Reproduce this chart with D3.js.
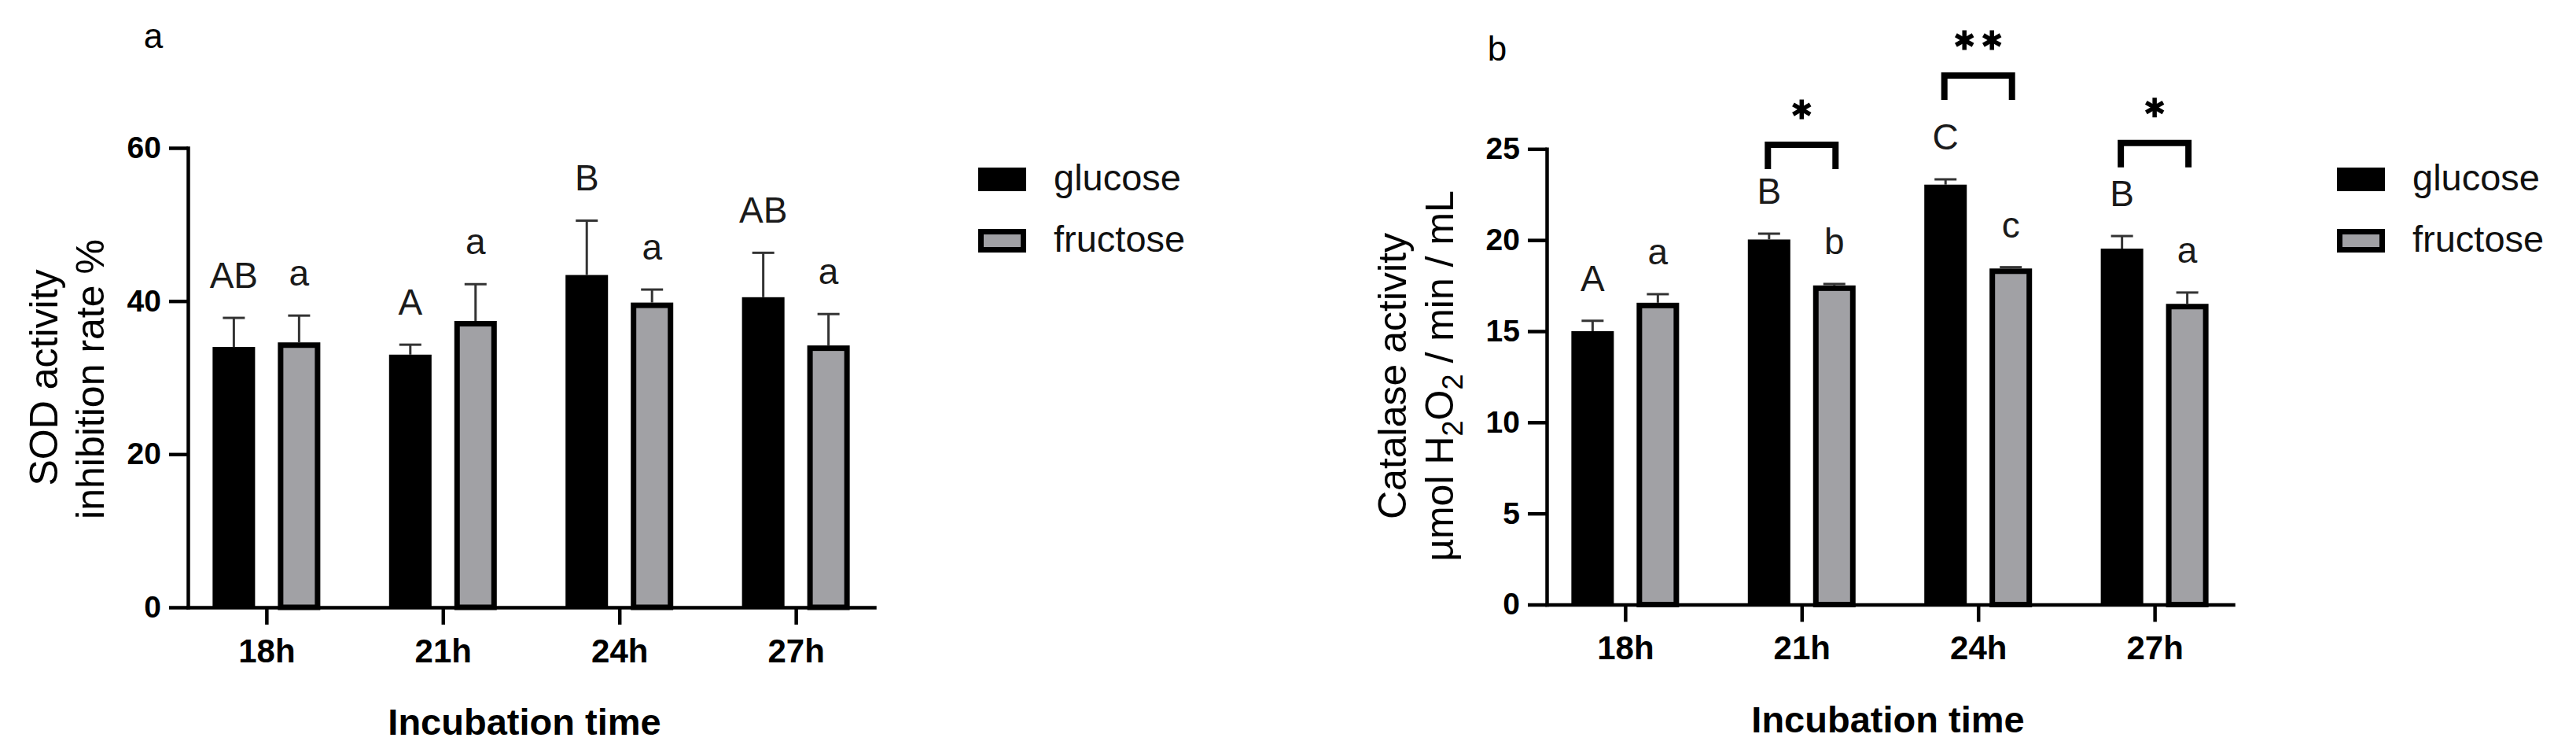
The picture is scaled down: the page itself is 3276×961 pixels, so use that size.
<!DOCTYPE html>
<html><head><meta charset="utf-8">
<script src="https://cdn.jsdelivr.net/npm/d3@7"></script>
<style>body{margin:0;background:#fff} text{font-family:"Liberation Sans",Arial,sans-serif}</style>
</head><body><svg id="c" width="3276" height="961"></svg>
<script>
// ---------- data ----------
const categories = ["18h", "21h", "24h", "27h"];
const seriesNames = ["glucose", "fructose"];

// Panel a: SOD activity inhibition rate %
const sodGlucose = [34.0, 33.0, 43.4, 40.5];
const sodGlucoseSD = [3.8, 1.3, 7.1, 5.8];
const sodFructose = [34.6, 37.4, 39.8, 34.2];
const sodFructoseSD = [3.5, 4.8, 1.7, 4.1];
const sodGlucoseLetters = ["AB", "A", "B", "AB"];
const sodFructoseLetters = ["a", "a", "a", "a"];
const sodTicks = [0, 20, 40, 60];

// Panel b: Catalase activity
const catGlucose = [15.0, 20.03, 23.04, 19.53];
const catGlucoseSD = [0.57, 0.32, 0.29, 0.69];
const catFructose = [16.56, 17.51, 18.44, 16.5];
const catFructoseSD = [0.47, 0.08, 0.07, 0.62];
const catGlucoseLetters = ["A", "B", "C", "B"];
const catFructoseLetters = ["a", "b", "c", "a"];
const catTicks = [0, 5, 10, 15, 20, 25];
const catSignif = ["", "*", "**", "*"];
const catBracketLevel = [null, 25.4, 29.2, 25.5];

// ---------- drawing ----------
const svg = d3.select("#c");
const GRAY = "#a1a1a5";

function star(g, cx, cy) {
  const r = 12.5;
  [90, 30, 150].forEach(a => {
    const t = a * Math.PI / 180;
    g.append("line")
      .attr("x1", cx - r * Math.cos(t)).attr("y1", cy - r * Math.sin(t))
      .attr("x2", cx + r * Math.cos(t)).attr("y2", cy + r * Math.sin(t))
      .attr("stroke", "#000").attr("stroke-width", 5.5);
  });
}

function panel(cfg) {
  const g = svg.append("g");
  const x = d3.scalePoint().domain(categories).range([cfg.x0, cfg.x0 + 873]).padding(0.445);
  const x1 = d3.scaleBand().domain(seriesNames).range([-68.5, 68.5]).paddingInner(0.349);
  const y = d3.scaleLinear().domain([0, cfg.yMax]).range([cfg.yBottom, cfg.yTop]);
  const bw = x1.bandwidth();

  // y axis
  const ya = g.append("g").attr("transform", `translate(${cfg.x0},0)`)
    .call(d3.axisLeft(y).tickValues(cfg.ticks).tickSize(24).tickSizeOuter(0).tickPadding(10));
  ya.select(".domain").attr("stroke", "#000").attr("stroke-width", 4.5).attr("stroke-linecap", "square");
  ya.selectAll(".tick line").attr("stroke", "#000").attr("stroke-width", 4.5);
  ya.selectAll(".tick text").attr("font-size", 39).attr("font-weight", "bold").attr("fill", "#000")
    .attr("font-family", "'Liberation Sans',Arial,sans-serif");

  // x axis
  const xa = g.append("g").attr("transform", `translate(0,${cfg.yBottom})`)
    .call(d3.axisBottom(x).tickSize(22).tickSizeOuter(0).tickPadding(18));
  xa.select(".domain").attr("stroke", "#000").attr("stroke-width", 4.5).attr("stroke-linecap", "square");
  xa.selectAll(".tick line").attr("stroke", "#000").attr("stroke-width", 4.5);
  xa.selectAll(".tick text").attr("font-size", 42).attr("font-weight", "bold").attr("fill", "#000")
    .attr("font-family", "'Liberation Sans',Arial,sans-serif");

  const rows = categories.map((c, i) => ({
    c, i,
    vals: [
      { s: "glucose", v: cfg.gl[i], sd: cfg.glSD[i], lab: cfg.glLab[i] },
      { s: "fructose", v: cfg.fr[i], sd: cfg.frSD[i], lab: cfg.frLab[i] }
    ]
  }));

  rows.forEach(r => {
    r.vals.forEach(d => {
      const bx = x(r.c) + x1(d.s);
      const cx = bx + bw / 2;
      if (d.s === "glucose") {
        g.append("rect").attr("x", bx).attr("y", y(d.v)).attr("width", bw)
          .attr("height", cfg.yBottom - y(d.v)).attr("fill", "#000");
      } else {
        g.append("rect").attr("x", bx + 3.5).attr("y", y(d.v) + 3.5).attr("width", bw - 7)
          .attr("height", cfg.yBottom - y(d.v) - 3.5).attr("fill", GRAY)
          .attr("stroke", "#000").attr("stroke-width", 7);
      }
      // error bar
      g.append("line").attr("x1", cx).attr("x2", cx).attr("y1", y(d.v)).attr("y2", y(d.v + d.sd))
        .attr("stroke", "#333").attr("stroke-width", 3);
      g.append("line").attr("x1", cx - 14).attr("x2", cx + 14).attr("y1", y(d.v + d.sd)).attr("y2", y(d.v + d.sd))
        .attr("stroke", "#333").attr("stroke-width", 3);
      // letter
      g.append("text").attr("x", cx).attr("y", y(d.v + d.sd) - 38).attr("text-anchor", "middle")
        .attr("font-size", 46).attr("fill", "#1a1a1a").text(d.lab);
    });
    // significance bracket
    if (cfg.sig && cfg.sig[r.i]) {
      const cx = x(r.c);
      const top = y(cfg.level[r.i]);
      const lx = cx - 43, rx = cx + 43;
      g.append("path")
        .attr("d", `M${lx},${top + 35} L${lx},${top + 4} L${rx},${top + 4} L${rx},${top + 35}`)
        .attr("fill", "none").attr("stroke", "#000").attr("stroke-width", 8).attr("stroke-linejoin", "miter");
      const n = cfg.sig[r.i].length;
      for (let k = 0; k < n; k++) {
        star(g, cx + (k - (n - 1) / 2) * 35, top - 41);
      }
    }
  });

  // legend
  const lx = cfg.x0 + 1005;
  [["glucose", 213], ["fructose", 291]].forEach(([name, ly]) => {
    if (name === "glucose") {
      g.append("rect").attr("x", lx).attr("y", ly).attr("width", 61).attr("height", 30).attr("fill", "#000");
    } else {
      g.append("rect").attr("x", lx + 3.5).attr("y", ly + 3.5).attr("width", 54).attr("height", 23)
        .attr("fill", GRAY).attr("stroke", "#000").attr("stroke-width", 7);
    }
    g.append("text").attr("x", lx + 96).attr("y", ly + 29).attr("font-size", 47).attr("fill", "#111").text(name);
  });

  // x title
  g.append("text").attr("x", cfg.x0 + cfg.titleDx).attr("y", cfg.yBottom + 162).attr("text-anchor", "middle")
    .attr("font-size", 47).attr("font-weight", "bold").attr("fill", "#000").text("Incubation time");

  // panel label
  g.append("text").attr("x", cfg.labX).attr("y", cfg.labY).attr("text-anchor", "middle")
    .attr("font-size", 44).attr("fill", "#000").text(cfg.label);
  return g;
}

const ga = panel({
  x0: 239, yBottom: 772, yTop: 188, yMax: 60, ticks: sodTicks,
  gl: sodGlucose, glSD: sodGlucoseSD, fr: sodFructose, frSD: sodFructoseSD,
  glLab: sodGlucoseLetters, frLab: sodFructoseLetters,
  label: "a", labX: 195, labY: 61, titleDx: 428
});
const gb = panel({
  x0: 1967, yBottom: 768.5, yTop: 189.3, yMax: 25, ticks: catTicks,
  gl: catGlucose, glSD: catGlucoseSD, fr: catFructose, frSD: catFructoseSD,
  glLab: catGlucoseLetters, frLab: catFructoseLetters,
  sig: catSignif, level: catBracketLevel,
  label: "b", labX: 1904, labY: 77, titleDx: 434
});

// y titles
function ytitle(xb, cy, build) {
  const t = svg.append("text").attr("transform", `translate(${xb},${cy}) rotate(-90)`)
    .attr("text-anchor", "middle").attr("font-size", 50).attr("fill", "#000");
  build(t);
}
ytitle(73, 480, t => t.text("SOD activity"));
ytitle(132, 482, t => t.text("inhibition rate %"));
ytitle(1788, 478, t => t.text("Catalase activity"));
ytitle(1848, 478, t => {
  t.append("tspan").text("µmol H");
  t.append("tspan").attr("dy", 12).attr("font-size", 36).text("2");
  t.append("tspan").attr("dy", -12).text("O");
  t.append("tspan").attr("dy", 12).attr("font-size", 36).text("2");
  t.append("tspan").attr("dy", -12).text(" / min / mL");
});
</script></body></html>
